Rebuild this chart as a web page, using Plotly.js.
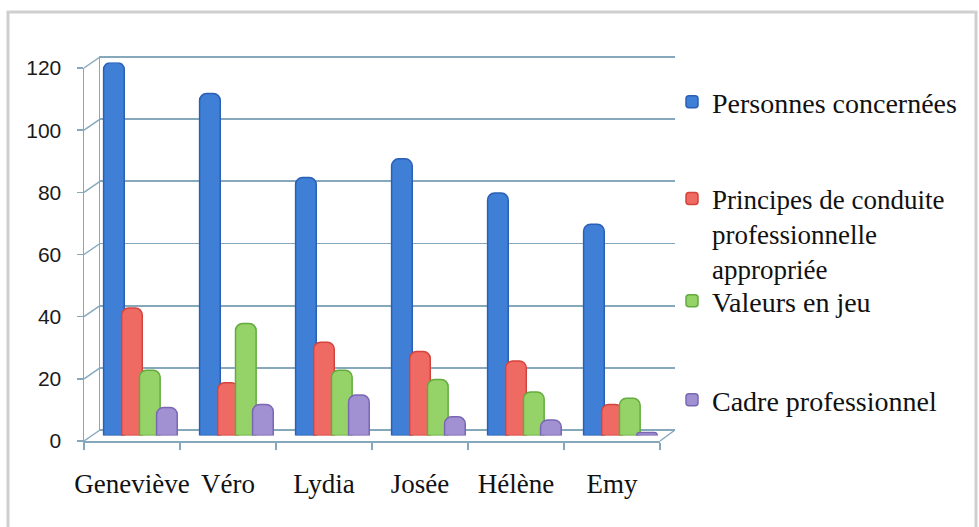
<!DOCTYPE html>
<html><head><meta charset="utf-8">
<script src="https://cdn.plot.ly/plotly-3.0.1.min.js"></script>
<style>html,body{margin:0;padding:0;background:#fff}#chart{width:979px;height:527px}</style>
</head><body><div id="chart"></div>
<script>
// ---- data ----
const categories = ['Geneviève', 'Véro', 'Lydia', 'Josée', 'Hélène', 'Emy'];
const personnesConcernees = [120, 110, 83, 89, 78, 68];
const principesConduite = [41, 17, 30, 27, 24, 10];
const valeursEnJeu = [21, 36, 21, 18, 14, 12];
const cadreProfessionnel = [9, 10, 13, 6, 5, 1];
const yTickValues = [0, 20, 40, 60, 80, 100, 120];
const seriesNames = ['Personnes concernées', 'Principes de conduite<br>professionnelle<br>appropriée', 'Valeurs en jeu', 'Cadre professionnel'];

// ---- geometry (pixels) ----
const W = 979, H = 527;
const px = v => v / W, py = v => 1 - v / H;
const front = {x: [84, 660], y: [441, 68]};
const mid = {x: [91.5, 667.5], y: [435.5, 62.5]};
const back = {x: [100, 675], y: [430, 57]};
const YMAX = 120;
const dom = g => ({x: [px(g.x[0]), px(g.x[1])], y: [py(g.y[0]), py(g.y[1])]});
const dB = dom(back), dM = dom(mid), dF = dom(front);
// back wall: pad range slightly so the 0 and 120 grid lines are kept
const PAD = 0.4, unitPx = (back.y[0] - back.y[1]) / YMAX;
const dBpad = {x: dB.x, y: [py(back.y[0] + PAD * unitPx), py(back.y[1] - PAD * unitPx)]};

const gridColor = '#86a8bc';
const serif = 'Liberation Serif, Times New Roman, serif';

const styles = [
  {fill: '#3f7fd6', line: '#2b5fb6'},
  {fill: '#ee6a63', line: '#d4433c'},
  {fill: '#95d267', line: '#62ab3d'},
  {fill: '#a291d2', line: '#7a67b4'}
];
const seriesValues = [personnesConcernees, principesConduite, valeursEnJeu, cadreProfessionnel];
const offsets = [-0.374, -0.186, 0.0, 0.178];
const legendIds = ['legend', 'legend2', 'legend3', 'legend4'];

const traces = [];
traces.push({type: 'scatter', x: categories, y: personnesConcernees, xaxis: 'x', yaxis: 'y',
  mode: 'markers', marker: {opacity: 0}, hoverinfo: 'skip', showlegend: false});
seriesValues.forEach((vals, i) => {
  traces.push({
    type: 'bar', name: seriesNames[i], x: categories, y: vals,
    xaxis: 'x2', yaxis: 'y2', legend: legendIds[i],
    width: 0.215, offset: offsets[i],
    marker: {color: styles[i].fill, line: {color: styles[i].line, width: 1.5}, cornerradius: 7},
    hoverinfo: 'x+y'
  });
});
traces.push({type: 'scatter', x: categories, y: personnesConcernees, xaxis: 'x3', yaxis: 'y3',
  mode: 'markers', marker: {opacity: 0}, hoverinfo: 'skip', showlegend: false});

// decorative 3D wall/floor edges
const shapes = [];
const fy = v => front.y[0] + (front.y[1] - front.y[0]) * v / YMAX;
const by = v => back.y[0] + (back.y[1] - back.y[0]) * v / YMAX;
yTickValues.forEach(v => {
  shapes.push({type: 'line', xref: 'paper', yref: 'paper',
    x0: px(front.x[0]), y0: py(fy(v)), x1: px(back.x[0]), y1: py(by(v)),
    line: {color: gridColor, width: 1.5}});
});
shapes.push({type: 'line', xref: 'paper', yref: 'paper',
  x0: px(front.x[1]), y0: py(front.y[0]), x1: px(back.x[1]), y1: py(back.y[0]),
  line: {color: gridColor, width: 1.5}});
shapes.push({type: 'rect', xref: 'paper', yref: 'paper', layer: 'below',
  x0: px(8), x1: px(976), y0: py(540), y1: py(12),
  line: {color: '#cfcfcf', width: 3}, fillcolor: 'rgba(0,0,0,0)'});

const legendBase = {x: px(672), xanchor: 'left', yanchor: 'middle', bgcolor: 'rgba(0,0,0,0)',
  font: {family: serif, size: 28, color: '#111'}, valign: 'top', itemwidth: 30};
const legendY = [102, 234, 301, 400];
const legendFontSize = [28, 27, 28, 28];

const layout = {
  width: W, height: H, margin: {l: 0, r: 0, t: 0, b: 0},
  paper_bgcolor: '#fff', plot_bgcolor: 'rgba(0,0,0,0)',
  barmode: 'overlay', showlegend: true,
  xaxis: {domain: dBpad.x, anchor: 'y', type: 'category', categoryarray: categories, range: [-0.5, 5.5],
    visible: false, fixedrange: true},
  yaxis: {domain: dBpad.y, anchor: 'x', range: [-PAD, YMAX + PAD], tickvals: yTickValues, showgrid: true,
    gridcolor: gridColor, gridwidth: 1.8, zeroline: false, showticklabels: false, ticks: '',
    showline: true, linecolor: gridColor, linewidth: 1.5},
  xaxis2: {domain: dM.x, anchor: 'y2', type: 'category', categoryarray: categories, range: [-0.5, 5.5],
    visible: false},
  yaxis2: {domain: dM.y, anchor: 'x2', range: [0, YMAX], visible: false},
  xaxis3: {domain: dF.x, anchor: 'y3', type: 'category', categoryarray: categories, range: [-0.5, 5.5],
    showgrid: false, zeroline: false, showline: true, linecolor: gridColor, linewidth: 1.5,
    ticks: 'outside', tickson: 'boundaries', ticklen: 7, tickcolor: gridColor, tickwidth: 1.5,
    tickangle: 0, ticklabelstandoff: 18, tickfont: {family: serif, size: 27, color: '#111'}},
  yaxis3: {domain: dF.y, anchor: 'x3', range: [0, YMAX], tickvals: yTickValues, showgrid: false,
    zeroline: false, showline: true, linecolor: gridColor, linewidth: 1.5,
    ticks: 'outside', ticklen: 6, tickcolor: gridColor, tickwidth: 1.5, ticklabelstandoff: 11,
    tickfont: {family: 'Liberation Sans, Arial, sans-serif', size: 21, color: '#1a1a1a'}},
  shapes: shapes
};
legendIds.forEach((id, i) => {
  layout[id] = Object.assign({}, legendBase, {y: py(legendY[i]),
    font: Object.assign({}, legendBase.font, {size: legendFontSize[i]})});
});

Plotly.newPlot('chart', traces, layout, {displayModeBar: false, staticPlot: true});
</script>
</body></html>
